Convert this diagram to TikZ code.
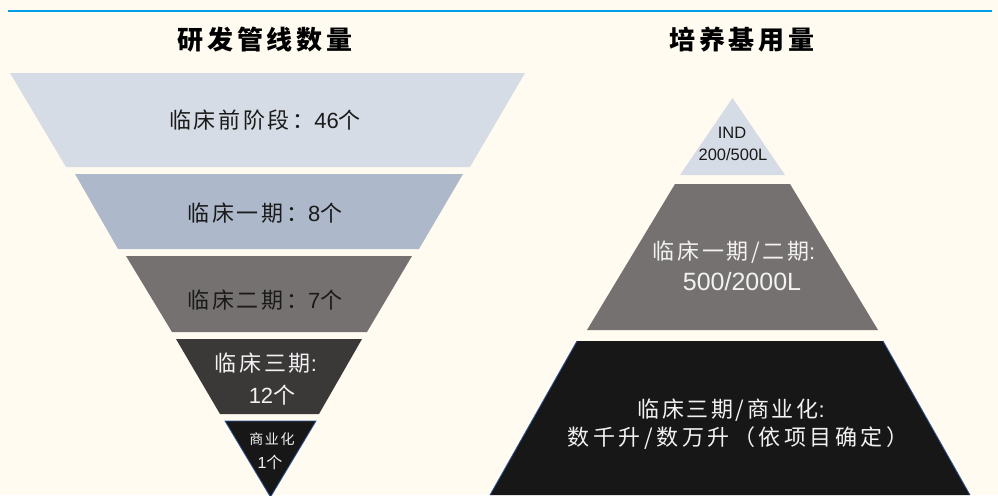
\documentclass[tikz,border=0pt]{standalone}
\usepackage{fontspec}
\setmainfont{Liberation Sans}
\newfontfamily\cjk[LetterSpace=12]{Noto Sans CJK SC}
\newfontfamily\cjkw[LetterSpace=16]{Noto Sans CJK SC}
\newfontfamily\cjkt[LetterSpace=15]{Noto Sans CJK SC}
\definecolor{bgc}{HTML}{FFFBF0}
\definecolor{topline}{HTML}{00A0E9}
\definecolor{cA}{HTML}{D6DCE5}
\definecolor{cB}{HTML}{ADB9CA}
\definecolor{cC}{HTML}{767171}
\definecolor{cD}{HTML}{3B3838}
\definecolor{cE}{HTML}{171717}
\definecolor{edgeblue}{HTML}{2F5597}
\definecolor{darktxt}{HTML}{1A1A1A}
\definecolor{lighttxt}{HTML}{F2F2F2}
\begin{document}
\begin{tikzpicture}[x=1pt,y=-1pt,
  ttl/.style={font=\cjkt\fontsize{26}{28}\selectfont\bfseries, text=black, inner sep=0pt},
  big/.style={font=\fontsize{22}{25}\selectfont, inner sep=0pt, align=center},
  rbig/.style={font=\fontsize{22}{29}\selectfont, inner sep=0pt, align=center},
  small/.style={font=\fontsize{16.5}{22}\selectfont, inner sep=0pt, align=center},
  dk/.style={text=darktxt},
  lt/.style={text=lighttxt}]
\useasboundingbox (0,0) rectangle (998,495);
\fill[bgc] (0,0) rectangle (998,495);
\coordinate (lineL) at (8,11);
\coordinate (lineR) at (992,11);
\draw[topline, line width=2pt] (lineL) -- (lineR);

% titles
\node[ttl] (title1) at (265,40) {研发管线数量};
\node[ttl] (title2) at (742,40) {培养基用量};

% left funnel
\fill[cA] (10,73) -- (525,73) -- (470,167) -- (66,167) -- cycle;
\fill[cB] (75,174) -- (463,174) -- (419,249) -- (118,249) -- cycle;
\fill[cC] (126,256) -- (412,256) -- (367,332) -- (172,332) -- cycle;
\fill[cD] (176,339) -- (362,339) -- (319,414) -- (220,414) -- cycle;
\filldraw[fill=cE, draw=edgeblue, line width=0.8pt] (225,421) -- (316,421) -- (270.5,497) -- cycle;

\node[big, dk] (l1) at (265,120) {{\cjk 临床前阶段：}46{\cjk 个}};
\node[big, dk] (l2) at (265,213) {{\cjk 临床一期：}8{\cjk 个}};
\node[big, dk] (l3) at (265,300) {{\cjk 临床二期：}7{\cjk 个}};
\node[big, lt] (l4a) at (266,363) {{\cjk 临床三期}:};
\node[big, lt] (l4b) at (272,395) {12{\cjk 个}};
\node[font=\cjk\fontsize{14}{16}\selectfont, lt, inner sep=0pt] (l5a) at (272,439) {商业化};
\node[font=\fontsize{16}{20}\selectfont, lt, inner sep=0pt] (l5b) at (270,462) {1{\cjk 个}};

% right pyramid
\fill[cA] (732.5,98) -- (785,175) -- (680,175) -- cycle;
\fill[cC] (675,184) -- (790,184) -- (878,330) -- (587,330) -- cycle;
\fill[cE] (577,341) -- (883,341) -- (970,495) -- (490,495) -- cycle;
\draw[edgeblue, line width=0.8pt] (577,341) -- (490,495);
\draw[edgeblue, line width=0.8pt] (883,341) -- (970,495);

\node[small, dk] (r1a) at (732,133) {IND};
\node[small, dk] (r1b) at (733,155) {200/500L};
\node[rbig, lt] (r2a) at (734,252) {{\cjk 临床一期/二期}:};
\node[font=\fontsize{25}{28}\selectfont, lt, inner sep=0pt] (r2b) at (742,282) {500/2000L};
\node[rbig, lt] (r3a) at (731,410) {{\cjk 临床三期/商业化}:};
\node[rbig, lt] (r3b) at (738,438) {{\cjkw 数千升/数万升（依项目确定）}};
\end{tikzpicture}
\end{document}
